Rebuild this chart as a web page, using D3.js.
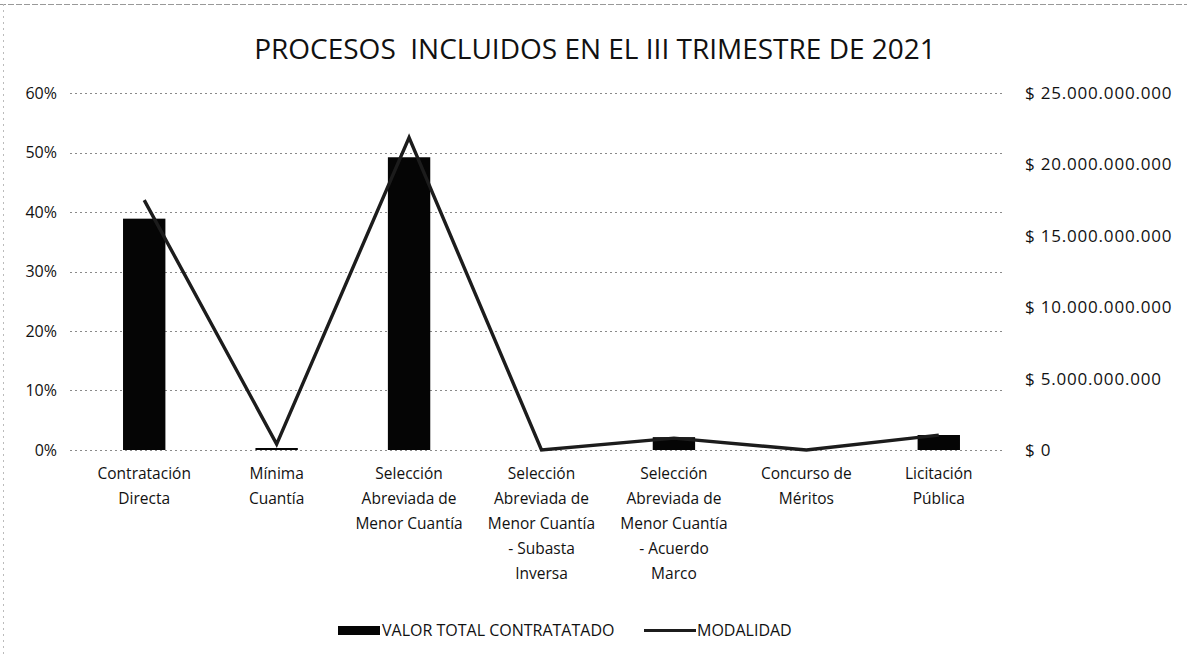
<!DOCTYPE html>
<html>
<head>
<meta charset="utf-8">
<script src="https://cdn.jsdelivr.net/npm/d3@7"></script>
<style>
  html, body { margin: 0; padding: 0; background: #fff; }
  svg { display: block; }
  text { font-family: "Open Sans", "Noto Sans", sans-serif; fill: #111; }
</style>
</head>
<body>
<svg id="chart" width="1187" height="657"></svg>
<script>
// ---- data ----
const categories = [
  "Contratación Directa",
  "Mínima Cuantía",
  "Selección Abreviada de Menor Cuantía",
  "Selección Abreviada de Menor Cuantía - Subasta Inversa",
  "Selección Abreviada de Menor Cuantía - Acuerdo Marco",
  "Concurso de Méritos",
  "Licitación Pública"
];
const categoryLines = [
  ["Contratación", "Directa"],
  ["Mínima", "Cuantía"],
  ["Selección", "Abreviada de", "Menor Cuantía"],
  ["Selección", "Abreviada de", "Menor Cuantía", "- Subasta", "Inversa"],
  ["Selección", "Abreviada de", "Menor Cuantía", "- Acuerdo", "Marco"],
  ["Concurso de", "Méritos"],
  ["Licitación", "Pública"]
];
const valorTotal = [16.2e9, 0.14e9, 20.5e9, 0, 0.9e9, 0, 1.05e9];   // right axis
const modalidad  = [0.42, 0.01, 0.525, 0, 0.02, 0, 0.025];          // left axis
const leftTicks  = [0, 0.1, 0.2, 0.3, 0.4, 0.5, 0.6];
const rightTicks = [0, 5e9, 10e9, 15e9, 20e9, 25e9];
const title = "PROCESOS\u00A0 INCLUIDOS EN EL III TRIMESTRE DE 2021";
const seriesNames = ["VALOR TOTAL CONTRATATADO", "MODALIDAD"];

// ---- layout ----
const svg = d3.select("#chart");
const W = 1187, H = 657;
const plot = { left: 78, right: 1005, top: 93, bottom: 450 };

const x = d3.scaleBand().domain(categories).range([plot.left, plot.right]).paddingInner(0.68).paddingOuter(0.34);
const yL = d3.scaleLinear().domain([0, 0.6]).range([plot.bottom, plot.top]);
const yR = d3.scaleLinear().domain([0, 25e9]).range([plot.bottom, plot.top]);

// chart border remnants (scan)
svg.append("line").attr("x1", 0).attr("x2", W).attr("y1", 4.5).attr("y2", 4.5)
  .attr("stroke", "#999").attr("stroke-dasharray", "6,2").attr("stroke-width", 1);
svg.append("line").attr("x1", 3.5).attr("x2", 3.5).attr("y1", 4).attr("y2", H)
  .attr("stroke", "#bbb").attr("stroke-dasharray", "2,4").attr("stroke-width", 1);

// title
svg.append("text").attr("x", 595).attr("y", 59).attr("text-anchor", "middle")
  .style("font-size", "28px").text(title);

// gridlines
const grid = svg.append("g");
leftTicks.forEach(t => {
  grid.append("line").attr("x1", plot.left - 8).attr("x2", plot.right)
    .attr("y1", Math.round(yL(t)) + 0.5).attr("y2", Math.round(yL(t)) + 0.5)
    .attr("stroke", "#8a8a8a").attr("stroke-width", 1).attr("stroke-dasharray", "2,3");
});

// left axis
const axL = svg.append("g").attr("transform", `translate(${plot.left - 21},0)`)
  .call(d3.axisLeft(yL).tickValues(leftTicks).tickFormat(d3.format(".0%")).tickSize(0).tickPadding(0));
axL.select(".domain").remove();
axL.selectAll("text").style("font-size", "16px").style("font-family", '"Open Sans", sans-serif').attr("fill", "#111");

// right axis
const fmtMoney = v => "$ " + d3.format(",")(v).replace(/,/g, ".");
const axR = svg.append("g").attr("transform", `translate(${plot.right + 20},0)`)
  .call(d3.axisRight(yR).tickValues(rightTicks).tickFormat(fmtMoney).tickSize(0).tickPadding(0));
axR.select(".domain").remove();
axR.selectAll("text").style("font-size", "17px").style("letter-spacing", "0.8px")
  .style("font-family", '"Open Sans", sans-serif').attr("fill", "#111");

// bars
svg.append("g").selectAll("rect").data(categories).join("rect")
  .attr("x", d => x(d))
  .attr("width", x.bandwidth())
  .attr("y", (d, i) => yR(valorTotal[i]))
  .attr("height", (d, i) => plot.bottom - yR(valorTotal[i]))
  .attr("fill", "#050505");

// line
const line = d3.line().x((d, i) => x(categories[i]) + x.bandwidth() / 2).y(d => yL(d));
svg.append("path").datum(modalidad).attr("d", line)
  .attr("fill", "none").attr("stroke", "#1c1c1c").attr("stroke-width", 3.4)
  .attr("stroke-linejoin", "miter");

// x labels
const xl = svg.append("g");
categories.forEach((c, i) => {
  const t = xl.append("text").attr("text-anchor", "middle")
    .attr("x", x(c) + x.bandwidth() / 2).attr("y", 479).style("font-size", "15.5px");
  categoryLines[i].forEach((ln, j) => {
    t.append("tspan").attr("x", x(c) + x.bandwidth() / 2).attr("dy", j === 0 ? 0 : 25).text(ln);
  });
});

// legend
const lg = svg.append("g");
lg.append("rect").attr("x", 338).attr("y", 626).attr("width", 42).attr("height", 9).attr("fill", "#050505");
lg.append("text").attr("x", 382).attr("y", 636).style("font-size", "16px").text(seriesNames[0]);
lg.append("line").attr("x1", 644).attr("x2", 696).attr("y1", 630.5).attr("y2", 630.5)
  .attr("stroke", "#1c1c1c").attr("stroke-width", 3);
lg.append("text").attr("x", 697).attr("y", 636).style("font-size", "16px").text(seriesNames[1]);
</script>
</body>
</html>
